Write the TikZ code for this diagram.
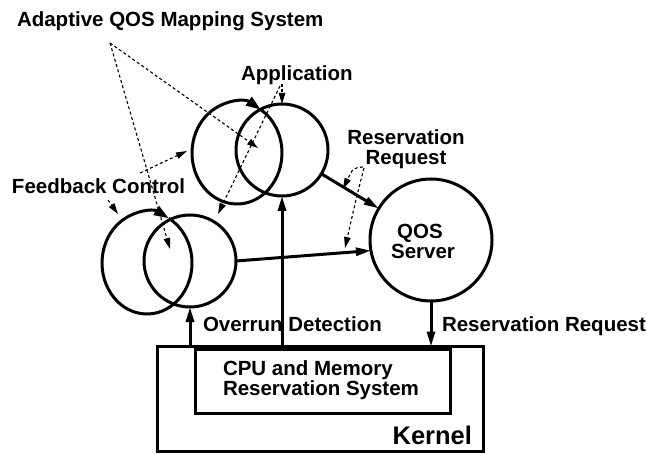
\documentclass[tikz,border=0pt]{standalone}
\usepackage{fontspec}
\setmainfont{Liberation Sans}
\usetikzlibrary{arrows.meta}
\begin{document}
\begin{tikzpicture}[x=1pt,y=-1pt,
  lbl/.style={font=\fontsize{20.5}{20}\selectfont\bfseries, inner sep=0pt, outer sep=0pt, anchor=base},
  bigl/.style={font=\fontsize{25.5}{26}\selectfont\bfseries, inner sep=0pt, outer sep=0pt},
  ring/.style={circle, draw, line width=3pt, inner sep=0pt, outer sep=0pt},
  boxx/.style={draw, line width=3pt, inner sep=0pt, outer sep=0pt},
  heavy/.style={line width=3pt},
  arr/.style={line width=3pt, -{Triangle[length=15pt,width=8pt]}},
  loopar/.style={line width=3pt, -{Triangle[length=15pt,width=10pt]}},
  hint/.style={line width=1.1pt, dash pattern=on 3pt off 2.5pt, -{Triangle[length=11pt,width=6.5pt]}}]

\useasboundingbox (0,0) rectangle (647,454);

% kernel and reservation system
\node[boxx, minimum width=326pt, minimum height=105pt] (kernel) at (320,399) {};
\node[boxx, minimum width=255pt, minimum height=64pt] (cpu) at (322.5,381) {};

% circles
\node[ring, minimum size=92pt] (appT) at (282,150) {};
\node[ring, minimum size=92pt] (appB) at (190,261) {};
\node[ring, minimum size=122pt] (qos) at (431,240) {};

% feedback ellipses (top pair)
\draw[loopar] (237,153) ++(-52:45pt and 51pt) arc[start angle=-52, end angle=-302, x radius=45pt, y radius=51pt];
\draw[heavy] (237,153) ++(58:45pt and 51pt) arc[start angle=58, end angle=-52, x radius=45pt, y radius=51pt];
% feedback ellipses (bottom pair)
\draw[loopar] (147,263) ++(-53:45pt and 51pt) arc[start angle=-53, end angle=-299, x radius=45pt, y radius=51pt];
\draw[heavy] (147,263) ++(61:45pt and 51pt) arc[start angle=61, end angle=-53, x radius=45pt, y radius=51pt];

% labels
\node[lbl, anchor=base west] (tAdaptive) at (17,27) {Adaptive QOS Mapping System};
\node[lbl, anchor=base west] (tApp) at (241,81) {Application};
\node[lbl, anchor=base west] (tFeedback) at (12,194) {Feedback Control};
\node[lbl] (tRes1) at (406,145) {Reservation};
\node[lbl] (tRes2) at (406,165) {Request};
\node[lbl] (tQos1) at (420,238) {QOS};
\node[lbl] (tQos2) at (423,258) {Server};
\node[lbl, anchor=base west] (tOverrun) at (203,331) {Overrun Detection};
\node[lbl, anchor=base west] (tResReq) at (442,331) {Reservation Request};
\node[lbl, anchor=base west] (tCpu1) at (223,375) {CPU and Memory};
\node[lbl, anchor=base west] (tCpu2) at (223,395) {Reservation System};
\node[bigl, anchor=base east] (tKernel) at (472,444) {Kernel};

% solid connectors
\draw[arr] (appT) -- (qos);
\draw[arr] (appB.east) -- (qos.190);
\draw[arr] (kernel.north -| appB.south) -- (appB.south);
\draw[arr] (kernel.north -| appT.south) -- (appT.south);
\draw[arr] (qos.south) -- (qos.south |- kernel.north);

% dashed pointers
\coordinate (aqApex) at (110,43);
\coordinate (aqTipA) at (258,148);
\coordinate (aqTipB) at (170,249);
\coordinate (fbA) at (140,173);
\coordinate (fbTipA) at (187,151);
\coordinate (fbB) at (108,200);
\coordinate (fbTipB) at (118,214);
\coordinate (apA) at (282,84);
\coordinate (apB) at (280,86);
\coordinate (apTipB) at (218,214);
\coordinate (rrA) at (363,167);
\coordinate (rrTipA) at (343,189);
\coordinate (rrB) at (364,168);
\coordinate (rrTipB) at (345,248);

\draw[hint] (aqApex) -- (aqTipA);
\draw[hint] (aqApex) -- (aqTipB);
\draw[hint] (fbA) -- (fbTipA);
\draw[hint] (fbB) -- (fbTipB);
\draw[hint] (apA) -- (appT.north);
\draw[hint] (apB) -- (apTipB);
\draw[hint] (rrA) .. controls (353,168) .. (rrTipA);
\draw[hint] (rrB) .. controls (357,195) .. (rrTipB);
\end{tikzpicture}
\end{document}
